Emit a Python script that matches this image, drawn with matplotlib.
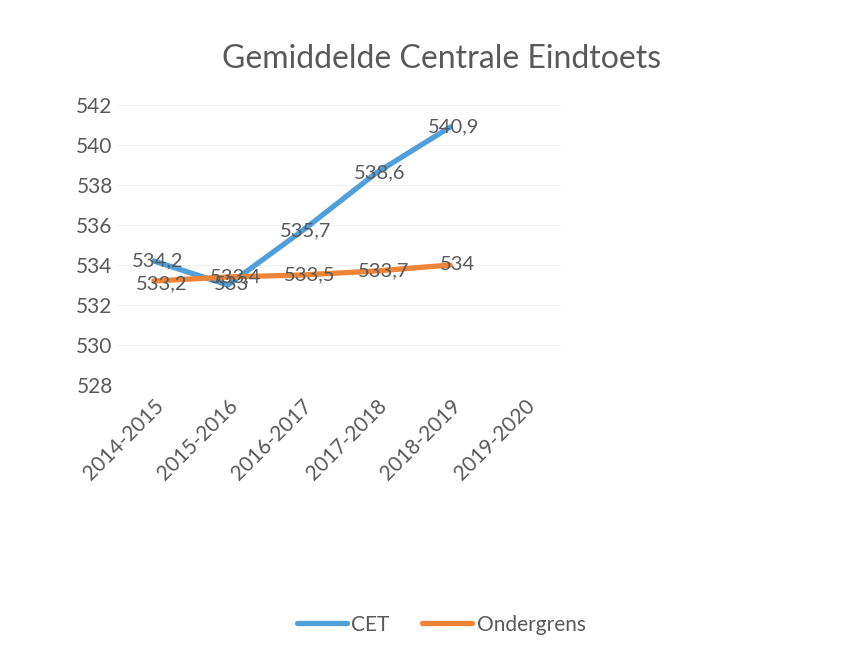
import numpy as np
import matplotlib
matplotlib.use('Agg')
from matplotlib import pyplot as plt

plt.rcParams['font.family'] = ['Lato', 'DejaVu Sans']

jaren = ['2014-2015', '2015-2016', '2016-2017', '2017-2018', '2018-2019', '2019-2020']
cet = [534.2, 533.0, 535.7, 538.6, 540.9, np.nan]
ondergrens = [533.2, 533.4, 533.5, 533.7, 534.0, np.nan]
cet_labels = ['534,2', '533', '535,7', '538,6', '540,9']
onder_labels = ['533,2', '533,4', '533,5', '533,7', '534']
yticks = [528, 530, 532, 534, 536, 538, 540, 542]

tekst = '#595959'
blauw = '#4E9FDA'
oranje = '#EE8436'

fig = plt.figure(figsize=(8.65, 6.52), dpi=100)
ax = fig.add_axes([0.135, 0.4095, 0.514, 0.4295])

x = np.arange(len(jaren))
ax.plot(x, cet, color=blauw, lw=3.8, solid_capstyle='round', label='CET', zorder=3)
ax.plot(x, ondergrens, color=oranje, lw=3.8, solid_capstyle='round', label='Ondergrens', zorder=3)

for i, lab in enumerate(cet_labels):
    ax.text(x[i] + 0.05, cet[i], lab, ha='center', va='center', fontsize=14.5, color=tekst, zorder=4)
for i, lab in enumerate(onder_labels):
    dy = -0.15 if i == 0 else 0
    ax.text(x[i] + 0.1, ondergrens[i] + dy, lab, ha='center', va='center', fontsize=14.5, color=tekst, zorder=4)

ax.set_xlim(-0.5, len(jaren) - 0.5)
ax.set_ylim(528, 542)
ax.set_yticks(yticks)
ax.set_yticklabels([str(v) for v in yticks])
ax.set_xticks(x)
ax.set_xticklabels(jaren, rotation=45, ha='right', rotation_mode='anchor')
ax.tick_params(axis='both', length=0, labelsize=15, colors=tekst)
ax.tick_params(axis='y', pad=3)
ax.tick_params(axis='x', pad=8)
ax.grid(axis='y', color='#f2f2f2', lw=0.8)
ax.set_axisbelow(True)
for s in ax.spines.values():
    s.set_visible(False)

fig.text(0.51, 0.91, 'Gemiddelde Centrale Eindtoets', ha='center', va='center', fontsize=23, color=tekst)

fig.legend(loc='center', bbox_to_anchor=(0.51, 0.042), ncol=2, frameon=False,
           fontsize=15, labelcolor=tekst, handlelength=2.4, handletextpad=0.2, columnspacing=1.6)

fig.savefig('out.png', dpi=100, facecolor='white')
